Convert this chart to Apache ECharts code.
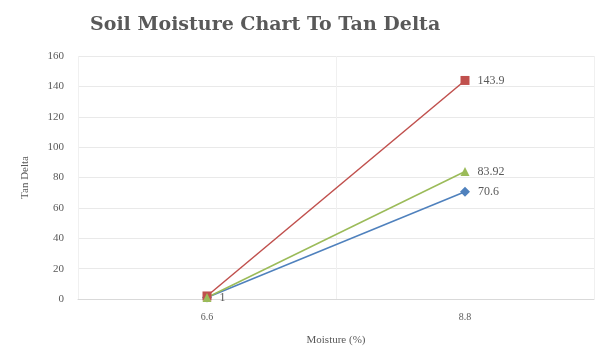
<!DOCTYPE html>
<html>
<head>
<meta charset="utf-8">
<script src="https://cdn.jsdelivr.net/npm/echarts@6/dist/echarts.min.js"></script>
<style>
  html, body { margin: 0; padding: 0; background: #fff; }
  #chart { width: 606px; height: 351px; }
</style>
</head>
<body>
<div id="chart"></div>
<script>
const moisture = ["6.6", "8.8"];
const seriesNames = ["Series1", "Series2", "Series3"];
const blueValues = [1, 70.6];
const redValues = [2, 143.9];
const greenValues = [1, 83.92];
const yTicks = [0, 20, 40, 60, 80, 100, 120, 140, 160];

const serif = "Liberation Serif";
const grey = "#595959";

// only the end labels are readable, plus the "1" at the first point
function withLabels(values, showFirst) {
  return values.map((v, i) => ({
    value: v,
    label: { show: i === values.length - 1 || showFirst }
  }));
}

const chart = echarts.init(document.getElementById("chart"));
chart.setOption({
  animation: false,
  title: {
    text: "Soil Moisture Chart To Tan Delta",
    left: 85,
    top: 11,
    textStyle: {
      fontFamily: "DejaVu Serif",
      fontWeight: "bold",
      fontSize: 19,
      color: grey
    }
  },
  grid: { left: 78, top: 56, right: 12, bottom: 50 },
  xAxis: {
    type: "category",
    data: moisture,
    name: "Moisture (%)",
    nameLocation: "middle",
    nameGap: 36,
    nameTextStyle: { fontFamily: serif, fontSize: 11, color: grey },
    axisLine: { lineStyle: { color: "#d9d9d9" } },
    axisTick: { show: false },
    axisLabel: { fontFamily: serif, fontSize: 10, color: grey, margin: 13 },
    splitLine: { show: true, lineStyle: { color: "#f0f0f0" } }
  },
  yAxis: {
    type: "value",
    min: yTicks[0],
    max: yTicks[yTicks.length - 1],
    interval: 20,
    name: "Tan Delta",
    nameLocation: "middle",
    nameGap: 47,
    nameTextStyle: { fontFamily: serif, fontSize: 11, color: grey },
    axisLine: { show: false },
    axisTick: { show: false },
    axisLabel: { fontFamily: serif, fontSize: 11, color: grey, margin: 14 },
    splitLine: { lineStyle: { color: "#e9e9e9" } }
  },
  series: [
    {
      name: seriesNames[0],
      type: "line",
      data: withLabels(blueValues, false),
      symbol: "diamond",
      symbolSize: 10,
      color: "#4F81BD",
      lineStyle: { width: 1.5 },
      label: { position: "right", distance: 8, fontFamily: serif, fontSize: 12, color: grey }
    },
    {
      name: seriesNames[1],
      type: "line",
      data: withLabels(redValues, false),
      symbol: "rect",
      symbolSize: 9,
      color: "#C0504D",
      lineStyle: { width: 1.5 },
      label: { position: "right", distance: 8, fontFamily: serif, fontSize: 12, color: grey }
    },
    {
      name: seriesNames[2],
      type: "line",
      data: withLabels(greenValues, true),
      symbol: "triangle",
      symbolSize: 9,
      color: "#9BBB59",
      lineStyle: { width: 1.5 },
      label: { position: "right", distance: 8, fontFamily: serif, fontSize: 12, color: grey }
    }
  ]
});
</script>
</body>
</html>
